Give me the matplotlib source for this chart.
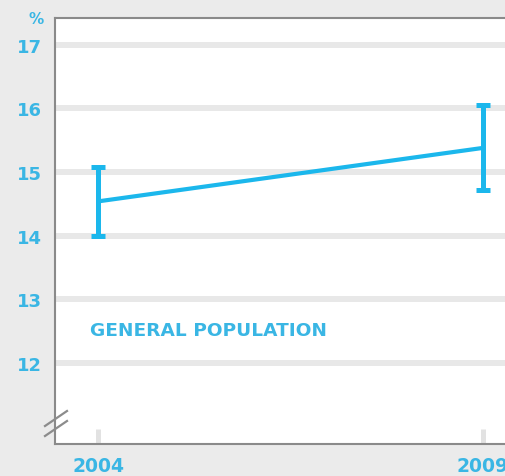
import matplotlib
matplotlib.use("Agg")
import matplotlib.pyplot as plt
from matplotlib.lines import Line2D

years = [2004, 2009]
values = [14.54, 15.38]
lower = [14.0, 14.72]
upper = [15.08, 16.06]
y_ticks = [12, 13, 14, 15, 16, 17]
series_label = "GENERAL POPULATION"

BLUE = "#1bb7ec"
TEXT_BLUE = "#3ab6e4"
GRID = "#e8e8e8"
SPINE = "#8a8a8a"

fig = plt.figure(figsize=(5.05, 4.77), dpi=100, facecolor="#ebebeb")
ax = fig.add_axes([55 / 505, 1 - 445 / 477, 505 / 505, (445 - 19) / 477])
ax.set_facecolor("white")

px_per_year = 77.0
ax.set_xlim(2004 - 43 / px_per_year, 2009 + 77 / px_per_year)
ax.set_ylim(10.73, 17.42)

for t in y_ticks:
    ax.axhline(t, color=GRID, lw=4.3, zorder=0)

yerr = [[v - lo for v, lo in zip(values, lower)],
        [hi - v for v, hi in zip(values, upper)]]
ax.plot(years, values, color=BLUE, lw=3.0, zorder=3, solid_capstyle="butt")
ax.errorbar(years, values, yerr=yerr, fmt="none", ecolor=BLUE,
            elinewidth=3.6, capsize=5, capthick=3.6, zorder=4)

ax.set_yticks(y_ticks)
ax.set_yticklabels([str(t) for t in y_ticks])
ax.set_xticks(years)
ax.set_xticklabels([str(y) for y in years])
ax.tick_params(axis="y", length=0, pad=9.5, labelsize=13, labelcolor=TEXT_BLUE)
ax.tick_params(axis="x", direction="in", length=10.5, width=3.6, color="#e2e2e2",
               pad=9, labelsize=13.5, labelcolor=TEXT_BLUE)
for lbl in ax.get_xticklabels() + ax.get_yticklabels():
    lbl.set_fontweight("bold")

for side in ["left", "bottom", "top", "right"]:
    ax.spines[side].set_color(SPINE)
    ax.spines[side].set_linewidth(1.5)

ax.text(90 / 505 - 55 / 505, 12.52, series_label, transform=ax.get_yaxis_transform(),
        color=TEXT_BLUE, fontsize=13.3, fontweight="bold",
        va="center", ha="left")

fig.text(36 / 505, 1 - 19 / 477, "%", color=TEXT_BLUE, fontsize=11,
         fontweight="bold", ha="center", va="center")

# axis break marks on the left spine
for y0 in (427, 437):
    fig.add_artist(Line2D([45 / 505, 67 / 505],
                          [1 - y0 / 477, 1 - (y0 - 15) / 477],
                          color="#8c8c8c", lw=1.6))

fig.savefig("out.png", dpi=100, facecolor=fig.get_facecolor())
